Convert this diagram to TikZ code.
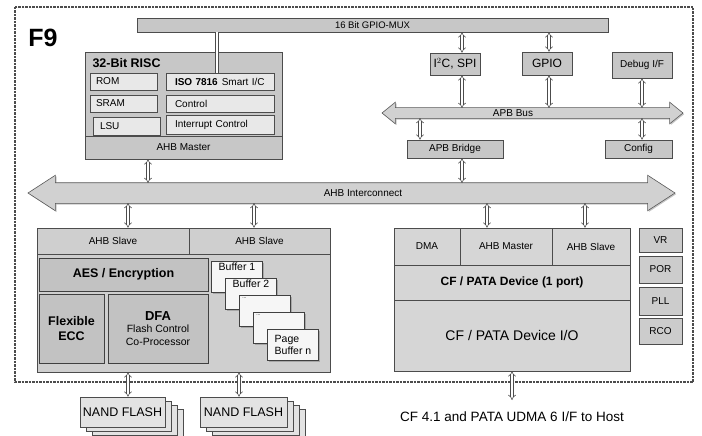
\documentclass[tikz,border=0pt]{standalone}
\usepackage{fontspec}
\setmainfont{Liberation Sans}
\usetikzlibrary{shapes.arrows,arrows.meta,shadows}

\tikzset{
  every node/.append style={font=\fontsize{10}{12}\selectfont},
  frame/.style={draw=black!70, line width=1.1pt, dash pattern=on 2.5pt off 1pt},
  blk/.style={draw=black!70, line width=0.6pt, fill=gray!44, inner sep=0pt,
    drop shadow={shadow xshift=1.2pt, shadow yshift=-1.2pt, opacity=0.45}},
  strip/.style={draw=black!70, line width=0.6pt, fill=gray!44, inner sep=0pt},
  sub/.style={draw=black!70, line width=0.6pt, fill=gray!18, inner sep=0pt, align=left,
    drop shadow={shadow xshift=1pt, shadow yshift=-1pt, opacity=0.4}},
  core/.style={draw=black!75, line width=0.9pt, fill=gray!48, inner sep=0pt, align=center},
  buf/.style={draw=black!75, line width=0.6pt, fill=gray!7, inner sep=0pt,
    minimum width=51pt, minimum height=31pt,
    drop shadow={shadow xshift=1.5pt, shadow yshift=-1.5pt, opacity=0.5}},
  nandbox/.style={draw=black!70, line width=0.6pt, fill=gray!22, inner sep=0pt,
    minimum height=30pt, font=\fontsize{12.5}{14}\selectfont},
  bus/.style={double arrow, draw=black!65, line width=0.6pt, fill=gray!36, inner xsep=0pt,
    drop shadow={shadow xshift=1.2pt, shadow yshift=-1.2pt, opacity=0.45}},
  dbl/.style={draw=black!70, line width=0.55pt, double=white, double distance=2.2pt,
    {Implies}-{Implies}},
  bar/.style={draw=black!70, line width=0.55pt, double=white, double distance=2.2pt}
}

\begin{document}
\begin{tikzpicture}[x=1pt, y=-1pt]
\useasboundingbox (0,0) rectangle (702,436);
\draw[frame] (15,7) rectangle (693,382);
\node (f9)[font=\fontsize{25}{25}\selectfont\bfseries] at (43,38) {F9};

% top bar and APB side
\node (mux)[blk, minimum width=471pt, minimum height=14pt, font=\fontsize{9.5}{11}\selectfont] at (372.5,25) {16 Bit GPIO-MUX};
\node (i2c)[blk, minimum width=50pt, minimum height=22pt, font=\fontsize{12}{14}\selectfont] at (455,64) {I$^2$C, SPI};
\node (gpio)[blk, minimum width=50pt, minimum height=23pt, font=\fontsize{12}{14}\selectfont] at (547,63.5) {GPIO};
\node (dbg)[blk, minimum width=60pt, minimum height=26pt] at (642,65) {Debug I/F};
\node (apb)[bus, minimum height=301pt, inner ysep=5pt, double arrow head extend=5.5pt, double arrow tip angle=78] at (532.5,113) {};
\node (apbt)[] at (513,113) {APB Bus};
\node (bridge)[blk, minimum width=96pt, minimum height=18pt] at (455,149) {APB Bridge};
\node (config)[blk, minimum width=67pt, minimum height=18pt] at (638.5,149) {Config};
\coordinate (apbN) at (0,108);
\coordinate (apbS) at (0,118);

% RISC core
\node (risc)[blk, minimum width=197pt, minimum height=107pt] at (183.5,105.5) {};
\node (risct)[anchor=west, font=\fontsize{12.5}{14}\selectfont\bfseries] at (89,63) {32-Bit RISC};
\node (rom)[sub, minimum width=67pt, minimum height=17pt, text width=55pt] at (123.5,81.5) {ROM};
\node (sram)[sub, minimum width=67pt, minimum height=17pt, text width=55pt] at (123.5,103.5) {SRAM};
\node (lsu)[sub, minimum width=67pt, minimum height=18pt, text width=53pt] at (126.5,126) {LSU};
\node (iso)[sub, minimum width=108pt, minimum height=17pt, text width=90pt] at (220,81.5) {\mbox{\textbf{ISO 7816}\hspace{4pt}Smart I/C}};
\node (ctrl)[sub, minimum width=108pt, minimum height=17pt, text width=90pt] at (220,103.5) {Control};
\node (irq)[sub, minimum width=108pt, minimum height=19pt, text width=90pt] at (220,124.5) {Interrupt Control};
\node (riscm)[strip, minimum width=197pt, minimum height=23pt] at (183.5,147.5) {AHB Master};

% AHB interconnect
\node (ahb)[bus, minimum height=647pt, inner ysep=10pt, double arrow head extend=7.5pt, double arrow tip angle=66] at (351.5,193) {};
\node (ahbt)[] at (363,193) {AHB Interconnect};
\coordinate (ahbN) at (0,183);
\coordinate (ahbS) at (0,203);

% flash controller
\node (nandc)[blk, fill=gray!38, minimum width=293pt, minimum height=144pt] at (183.5,300) {};
\node (slave1)[strip, fill=gray!38, minimum width=152pt, minimum height=26pt] at (113,241) {AHB Slave};
\node (slave2)[strip, fill=gray!38, minimum width=141pt, minimum height=26pt] at (259.5,241) {AHB Slave};
\node (aes)[core, minimum width=169pt, minimum height=33pt, font=\fontsize{12.5}{14}\selectfont\bfseries] at (123.5,274.5) {AES / Encryption};
\node (ecc)[core, minimum width=65pt, minimum height=69pt, font=\fontsize{12.5}{15}\selectfont\bfseries] at (71.5,328.5) {Flexible\\ECC};
\node (dfa)[core, minimum width=100pt, minimum height=69pt, font=\fontsize{10.5}{12.5}\selectfont] at (158,328.5) {{\fontsize{13}{15}\selectfont\bfseries DFA}\\Flash Control\\Co-Processor};
\node (buf1)[buf, label={[anchor=north, inner sep=2pt, font=\fontsize{10.5}{12}\selectfont]north:Buffer 1}] at (237,277) {};
\node (buf2)[buf, label={[anchor=north, inner sep=2pt, font=\fontsize{10.5}{12}\selectfont]north:Buffer 2}] at (251,294) {};
\node (buf3)[buf, label={[anchor=north west, inner sep=3pt, font=\fontsize{5}{6}\selectfont]north west:...}] at (265,311) {};
\node (buf4)[buf, label={[anchor=north west, inner sep=3pt, font=\fontsize{5}{6}\selectfont]north west:...}] at (279,328) {};
\node (buf5)[buf, align=left, font=\fontsize{10.5}{12}\selectfont] at (293,345) {Page\\Buffer n};

% NAND flash stacks
\foreach \k in {3,2,1}
  \node (nanda\k)[nandbox, minimum width=85pt] at ({122.5+6*\k},{412+4*\k}) {};
\node (nand1)[nandbox, minimum width=85pt] at (122.5,412) {NAND FLASH};
\foreach \k in {3,2,1}
  \node (nandb\k)[nandbox, minimum width=87pt] at ({243.5+6*\k},{412+4*\k}) {};
\node (nand2)[nandbox, minimum width=87pt] at (243.5,412) {NAND FLASH};

% CF / PATA device
\node (cf)[blk, fill=gray!32, minimum width=236pt, minimum height=143pt] at (512,299.5) {};
\node (dma)[strip, fill=gray!32, minimum width=66pt, minimum height=37pt] at (427,246.5) {DMA};
\node (ahbm)[strip, fill=gray!32, minimum width=92pt, minimum height=37pt] at (506,246.5) {AHB Master};
\node (ahbs)[strip, fill=gray!32, minimum width=78pt, minimum height=37pt] at (591,246.5) {AHB Slave};
\node (cfdev)[strip, fill=gray!32, minimum width=236pt, minimum height=35pt, font=\fontsize{12}{14}\selectfont\bfseries] at (512,282.5) {CF / PATA Device (1 port)};
\node (cfio)[strip, fill=gray!32, minimum width=236pt, minimum height=71pt, font=\fontsize{14}{16}\selectfont] at (512,335.5) {CF / PATA Device I/O};
\node (host)[anchor=north, inner ysep=12pt, font=\fontsize{13.5}{16}\selectfont] at (512,400) {CF 4.1 and PATA UDMA 6 I/F to Host};

% clock and power
\node (vr)[blk, fill=gray!40, minimum width=43pt, minimum height=24pt] at (660.5,240) {VR};
\node (por)[blk, fill=gray!40, minimum width=43pt, minimum height=27pt] at (660.5,269.5) {POR};
\node (pll)[blk, fill=gray!40, minimum width=43pt, minimum height=28pt] at (660.5,301) {PLL};
\node (rco)[blk, fill=gray!40, minimum width=43pt, minimum height=26pt] at (660.5,331) {RCO};

% connections
\draw[bar] (217,0 |- mux.south) -- (217,0 |- iso.north);
\draw[dbl] (148,0 |- risc.south) -- (148,0 |- ahbN);
\draw[dbl] (462,0 |- mux.south) -- (462,0 |- i2c.north);
\draw[dbl] (549,0 |- mux.south) -- (549,0 |- gpio.north);
\draw[dbl] (462,0 |- i2c.south) -- (462,0 |- apbN);
\draw[dbl] (549,0 |- gpio.south) -- (549,0 |- apbN);
\draw[dbl] (dbg.south) -- (dbg.south |- apbN);
\draw[dbl] (420,0 |- apbS) -- (420,0 |- bridge.north);
\draw[dbl] (642,0 |- apbS) -- (642,0 |- config.north);
\draw[dbl] (462,0 |- bridge.south) -- (462,0 |- ahbN);
\draw[dbl] (128,0 |- ahbS) -- (128,0 |- nandc.north);
\draw[dbl] (254,0 |- ahbS) -- (254,0 |- nandc.north);
\draw[dbl] (487,0 |- ahbS) -- (487,0 |- cf.north);
\draw[dbl] (585,0 |- ahbS) -- (585,0 |- cf.north);
\draw[dbl] (128,0 |- nandc.south) -- (128,0 |- nand1.north);
\draw[dbl] (239,0 |- nandc.south) -- (239,0 |- nand2.north);
\draw[dbl] (cf.south) -- (host.north);
\end{tikzpicture}
\end{document}
